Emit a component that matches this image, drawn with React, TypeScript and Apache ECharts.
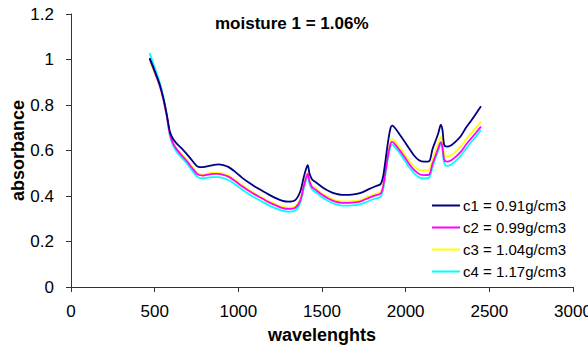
import React, { useEffect, useRef } from "react";
import * as echarts from "echarts";

const titleText = "moisture 1 = 1.06%";
const seriesNames = ["c1 = 0.91g/cm3", "c2 = 0.99g/cm3", "c3 = 1.04g/cm3", "c4 = 1.17g/cm3"];
const seriesColors = ["#000080", "#FF00FF", "#FFFF00", "#00FFFF"];

const wavelengths = [470, 500, 530, 552, 572, 592, 612, 632, 660, 691, 725, 761, 790, 820, 850, 880, 910, 940, 980, 1020, 1060, 1100, 1140, 1180, 1220, 1260, 1300, 1340, 1370, 1390, 1405, 1415, 1425, 1440, 1460, 1500, 1540, 1580, 1620, 1660, 1700, 1740, 1780, 1820, 1850, 1865, 1880, 1895, 1910, 1920, 1935, 1960, 1990, 2020, 2050, 2080, 2110, 2140, 2160, 2180, 2195, 2210, 2220, 2230, 2245, 2270, 2300, 2330, 2360, 2390, 2420, 2450];

const c1 = [1.006, 0.95, 0.89, 0.83, 0.76, 0.68, 0.648, 0.63, 0.61, 0.585, 0.555, 0.528, 0.527, 0.531, 0.536, 0.539, 0.536, 0.528, 0.507, 0.482, 0.46, 0.441, 0.424, 0.407, 0.392, 0.38, 0.375, 0.382, 0.42, 0.48, 0.52, 0.536, 0.5, 0.474, 0.462, 0.44, 0.422, 0.41, 0.405, 0.405, 0.408, 0.416, 0.43, 0.443, 0.452, 0.485, 0.56, 0.64, 0.7, 0.709, 0.7, 0.675, 0.643, 0.61, 0.578, 0.557, 0.551, 0.553, 0.605, 0.645, 0.676, 0.712, 0.69, 0.625, 0.617, 0.622, 0.64, 0.664, 0.7, 0.73, 0.762, 0.795];
const c2 = [1.003, 0.945, 0.885, 0.825, 0.752, 0.668, 0.628, 0.605, 0.58, 0.555, 0.522, 0.493, 0.49, 0.494, 0.497, 0.497, 0.493, 0.485, 0.466, 0.444, 0.424, 0.406, 0.39, 0.373, 0.36, 0.348, 0.343, 0.348, 0.38, 0.44, 0.48, 0.497, 0.465, 0.44, 0.428, 0.405, 0.388, 0.375, 0.37, 0.37, 0.372, 0.379, 0.392, 0.403, 0.41, 0.44, 0.51, 0.58, 0.63, 0.638, 0.628, 0.605, 0.575, 0.542, 0.515, 0.497, 0.492, 0.494, 0.54, 0.58, 0.61, 0.637, 0.615, 0.56, 0.551, 0.556, 0.573, 0.595, 0.625, 0.652, 0.678, 0.705];
const c3 = [0.998, 0.94, 0.882, 0.822, 0.75, 0.668, 0.63, 0.608, 0.584, 0.559, 0.527, 0.498, 0.495, 0.499, 0.502, 0.502, 0.498, 0.49, 0.471, 0.449, 0.429, 0.411, 0.394, 0.378, 0.365, 0.353, 0.349, 0.354, 0.386, 0.446, 0.486, 0.503, 0.471, 0.446, 0.434, 0.411, 0.394, 0.381, 0.376, 0.376, 0.378, 0.385, 0.398, 0.409, 0.417, 0.448, 0.52, 0.59, 0.642, 0.65, 0.64, 0.617, 0.588, 0.556, 0.53, 0.515, 0.512, 0.515, 0.56, 0.6, 0.632, 0.66, 0.638, 0.582, 0.573, 0.578, 0.595, 0.618, 0.648, 0.675, 0.7, 0.727];
const c4 = [1.028, 0.965, 0.9, 0.835, 0.755, 0.66, 0.618, 0.594, 0.569, 0.544, 0.51, 0.481, 0.478, 0.481, 0.483, 0.483, 0.479, 0.47, 0.452, 0.43, 0.41, 0.392, 0.376, 0.36, 0.347, 0.336, 0.331, 0.336, 0.37, 0.43, 0.472, 0.487, 0.455, 0.43, 0.417, 0.395, 0.377, 0.364, 0.358, 0.358, 0.36, 0.366, 0.378, 0.389, 0.396, 0.428, 0.5, 0.57, 0.618, 0.625, 0.615, 0.592, 0.56, 0.528, 0.5, 0.482, 0.477, 0.48, 0.526, 0.57, 0.6, 0.632, 0.605, 0.545, 0.532, 0.537, 0.555, 0.578, 0.607, 0.635, 0.662, 0.69];

const seriesValues = [c1, c2, c3, c4];

const FONT = "Liberation Sans, Arial, sans-serif";

export default function App() {
  const ref = useRef<HTMLDivElement>(null);
  useEffect(() => {
    if (!ref.current) return;
    const chart = echarts.init(ref.current, null, { renderer: "svg" });
    chart.setOption({
      animation: false,
      backgroundColor: "#ffffff",
      title: {
        text: titleText,
        left: 215,
        top: 15,
        padding: 0,
        textStyle: { fontFamily: FONT, fontSize: 17, fontWeight: "bold", color: "#000" },
      },
      grid: { left: 71, right: 15, top: 14, bottom: 62, containLabel: false, outerBoundsMode: "none" },
      legend: {
        orient: "vertical",
        left: 432,
        top: 198,
        icon: "rect",
        itemWidth: 28,
        itemHeight: 2,
        itemGap: 7,
        padding: 0,
        textStyle: { fontFamily: FONT, fontSize: 15, color: "#000", padding: [0, 0, 0, -2] },
        data: seriesNames,
      },
      xAxis: {
        type: "value",
        min: 0,
        max: 3000,
        interval: 500,
        name: "wavelenghts",
        nameLocation: "middle",
        nameGap: 39,
        nameMoveOverlap: false,
        nameTextStyle: { fontFamily: FONT, fontSize: 18, fontWeight: "bold", color: "#000" },
        splitLine: { show: false },
        axisLine: { lineStyle: { color: "#333", width: 1 } },
        axisTick: { inside: false, length: 5, lineStyle: { color: "#333" } },
        axisLabel: { fontFamily: FONT, fontSize: 17, color: "#000", margin: 16, formatter: (v: number) => String(v) },
      },
      yAxis: {
        type: "value",
        min: 0,
        max: 1.2,
        interval: 0.2,
        name: "absorbance",
        nameLocation: "middle",
        nameGap: 44,
        nameRotate: 90,
        nameMoveOverlap: false,
        nameTextStyle: { fontFamily: FONT, fontSize: 18, fontWeight: "bold", color: "#000" },
        splitLine: { show: false },
        axisLine: { show: true, lineStyle: { color: "#333", width: 1 } },
        axisTick: { show: true, inside: false, length: 5, lineStyle: { color: "#333" } },
        axisLabel: { fontFamily: FONT, fontSize: 17, color: "#000", margin: 17 },
      },
      series: seriesNames.map((name, i) => ({
        name,
        type: "line",
        symbol: "none",
        smooth: 0.3,
        data: wavelengths.map((w, j) => [w, seriesValues[i][j]]),
        lineStyle: { color: seriesColors[i], width: 1.8 },
        itemStyle: { color: seriesColors[i] },
        z: 10 - i,
      })),
    });
    return () => chart.dispose();
  }, []);
  return (
    <div
      ref={ref}
      style={{ position: "fixed", left: 0, top: 0, width: 588, height: 349, background: "#fff" }}
    />
  );
}
